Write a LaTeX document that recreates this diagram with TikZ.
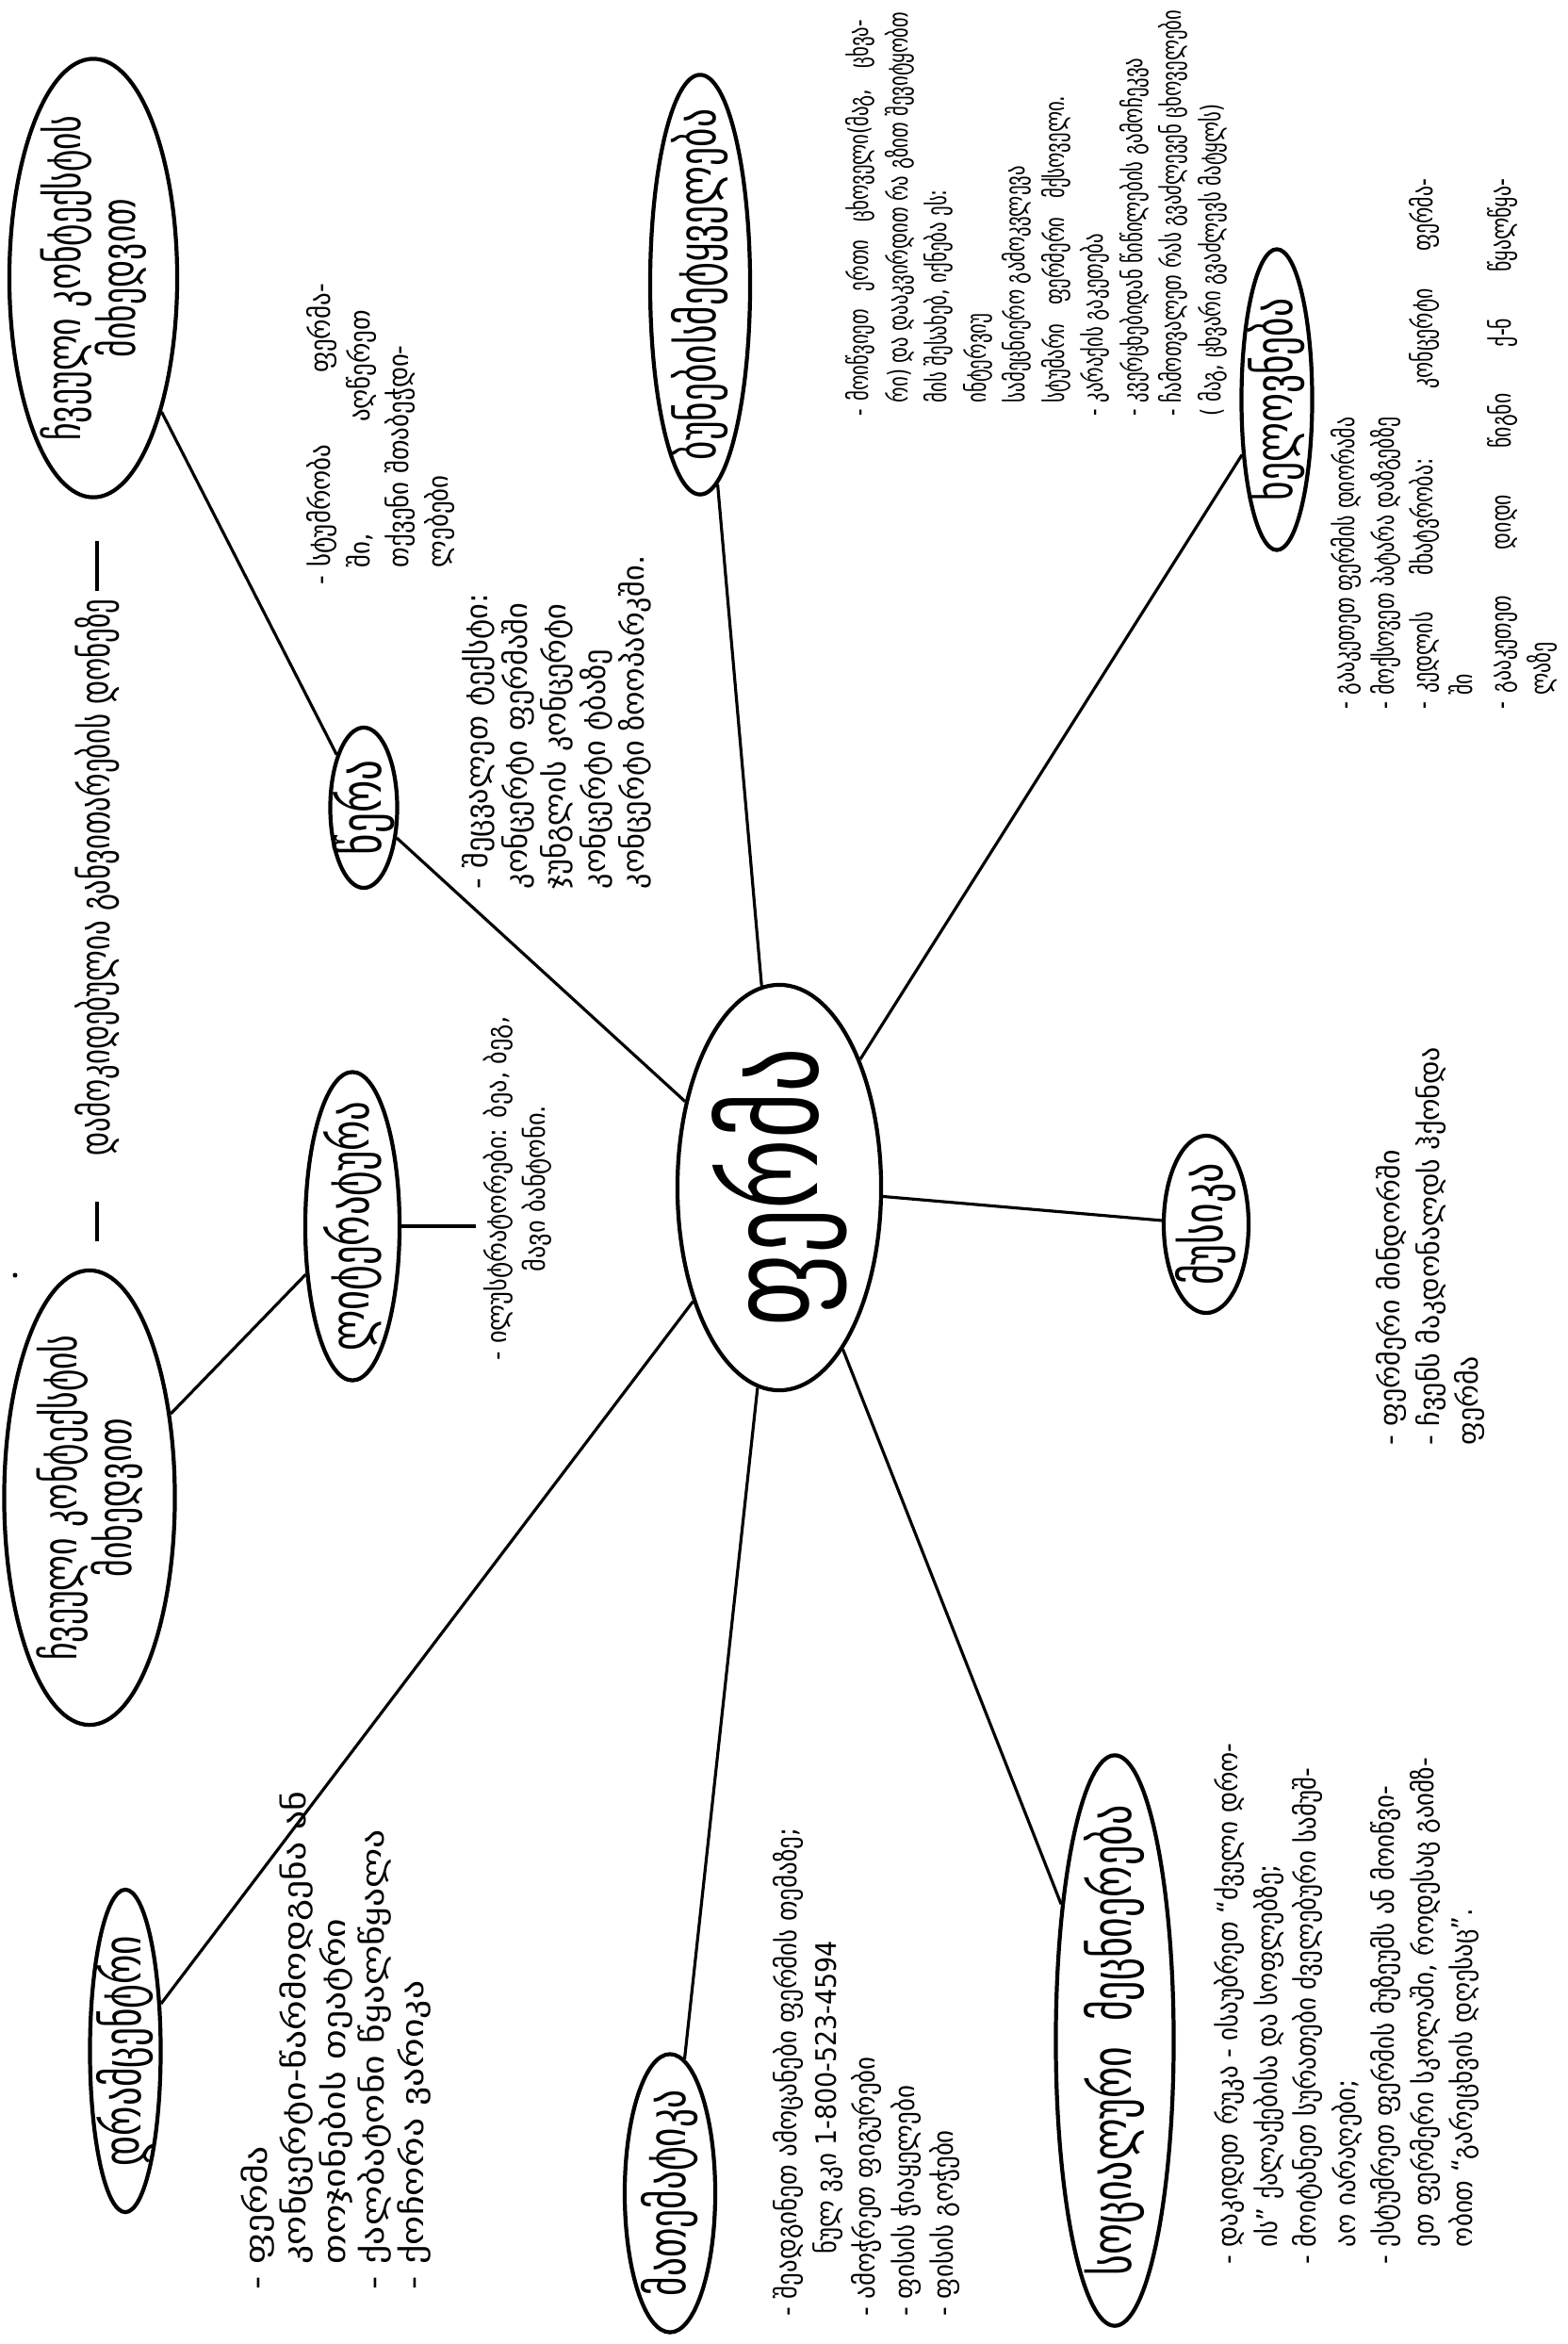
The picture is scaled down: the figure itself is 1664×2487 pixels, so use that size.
\documentclass[tikz,border=0pt]{standalone}
\usepackage{fontspec}
\setmainfont{DejaVu Sans}[FakeStretch=0.7]
\newfontfamily\geonature{DejaVu Sans}[FakeStretch=0.72]
\newfontfamily\geoart{DejaVu Sans}[FakeStretch=0.73]
\newfontfamily\geonote{DejaVu Sans}[FakeStretch=0.9]
\newfontfamily\geowide{DejaVu Sans}[FakeStretch=1.0]
\newfontfamily\geodrama{DejaVu Sans}[FakeStretch=1.2]
\usetikzlibrary{shapes.geometric}
\newcommand\contd{\hphantom{- }}

\begin{document}
\begin{tikzpicture}[x=0.01cm, y=-0.01cm,
        topic/.style={ellipse, draw, line width=1.2pt, rotate=90, inner sep=0pt},
        title/.style={rotate=90, align=center, inner sep=0pt},
        note/.style={rotate=90, anchor=north west, align=left, inner sep=0pt,
            font=\geonote\fontsize{8.5}{11.8}\selectfont},
        link/.style={line width=0.9pt}]
    \useasboundingbox (0,0) rectangle (1664,2487);

        \node[topic, minimum width=4.65cm, minimum height=1.78cm] (context1) at (99,295) {};
            \node[title, font=\fontsize{14.5}{14}\selectfont] (context1-text) at (context1) {ჩვეული\ კონტექსტის\\მიხედვით};
        \node[topic, minimum width=4.82cm, minimum height=1.81cm] (context2) at (95,1589) {};
            \node[title, font=\fontsize{14.5}{14}\selectfont] (context2-text) at (context2) {ჩვეული\ კონტექსტის\\მიხედვით};
            \node[title, font=\fontsize{12.5}{14}\selectfont] (level) at (103,931) {დამოკიდებულია განვითარების დონეზე};
            \draw[line width=1.4pt] (level.east) ++(0,-8) -- ++(0,-53);
            \draw[line width=1.4pt] (level.west) ++(0,48) -- ++(0,42);
            \fill (16,1353) circle (2.5);

        \node[topic, minimum width=3.27cm, minimum height=1cm] (literature) at (374,1301) {};
            \node[title, font=\fontsize{16.5}{17}\selectfont] (literature-text) at (literature) {ლიტერატურა};
            \node[title, font=\geonote\fontsize{8.3}{11.8}\selectfont] (litnote) at (549,1261)
                {- ილუსტრატორები: ბეა, ბეგ,\\მავი ბანტონი.};
        \node[topic, minimum width=1.7cm, minimum height=0.71cm] (writing) at (386,857) {};
            \node[title, font=\fontsize{17.5}{18}\selectfont] (writing-text) at (writing) {წერა};
        \node[topic, minimum width=4.45cm, minimum height=1.06cm] (nature) at (743,302) {};
            \node[title, font=\fontsize{16}{17}\selectfont] (nature-text) at (nature) {ბუნებისმეტყველება};
        \node[topic, minimum width=3.19cm, minimum height=0.75cm] (art) at (1355,424) {};
            \node[title, font=\fontsize{16}{17}\selectfont] (art-text) at (art) {ხელოვნება};
        \node[topic, minimum width=4.3cm, minimum height=2.16cm] (farm) at (827,1260) {};
            \node[title, font=\fontsize{38}{40}\selectfont] (farm-text) at (farm) {ფერმა};
        \node[topic, minimum width=1.88cm, minimum height=0.9cm] (music) at (1280,1299) {};
            \node[title, font=\fontsize{17}{18}\selectfont] (music-text) at (music) {მუსიკა};
        \node[topic, minimum width=6.05cm, minimum height=1.25cm] (social) at (1183,2165) {};
            \node[title, font=\fontsize{17}{18}\selectfont] (social-text) at (social) {სოციალური\ \ მეცნიერება};
        \node[topic, minimum width=2.95cm, minimum height=0.96cm] (maths) at (711,2327) {};
            \node[title, font=\fontsize{16}{17}\selectfont] (maths-text) at (maths) {მათემატიკა};
        \node[topic, minimum width=3.42cm, minimum height=0.75cm] (drama) at (133,2176) {};
            \node[title, font=\fontsize{16}{17}\selectfont] (drama-text) at (drama) {დრამცენტრი};

        \node[note] (visitnote) at (325,621) {\makebox[3.19cm][s]{-\hspace{0.3em}სტუმრობა ფერმა-}\\\contd\makebox[2.73cm][s]{ში, აღწერეთ}\\\contd თქვენი შთაბეჭდი-\\\contd ლებები};
        \node[note, font=\geowide\fontsize{9.2}{11.8}\selectfont] (writingnote) at (490,944) {- შეცვალეთ ტექსტი:\\კონცერტი ფერმაში\\ჯუნგლის კონცერტი\\კონცერტი ტბაზე\\კონცერტი ზოოპარკში.};
        \node[note, font=\geonature\fontsize{8.2}{11.8}\selectfont] (naturenote) at (897,442) {\makebox[4.2cm][s]{-\hspace{0.3em}მოიწვიეთ ერთი ცხოველი(მაგ, ცხვა-}\\
            \contd რი) და დააკვირდით რა გზით შევიტყობთ\\
            \contd მის შესახებ, იქნება ეს:\\
            \contd ინტერვიუ\\
            \contd სამეცნიერო გამოკვლევა\\
            \contd სტუმარი\ \ \ ფერმერი\ \ \ მქსოველი.\\
            - კარაქის გაკეთება\\
            - კვერცხებიდან წიწილების გამოჩეკვა\\
            - ჩამოთვალეთ რას გვაძლევენ ცხოველები\\
            ( მაგ, ცხვარი გვაძლევს მატყლს)};
        \node[note, font=\geoart\fontsize{8.5}{11.8}\selectfont] (artnote) at (1412,753) {- გააკეთეთ ფერმის დიორამა\\
            - მოქსოვეთ პატარა დაზგებზე\\
            \makebox[5.62cm][s]{-\hspace{0.3em}კედლის მხატვრობა: კონცერტი ფერმა-}\\
            \contd ში\\
            \makebox[5.62cm][s]{-\hspace{0.3em}გააკეთეთ დიდი წიგნი ქ-ნ წყალწყა-}\\
            \contd ლაზე};
        \node[note, font=\geowide\fontsize{8.5}{11.8}\selectfont] (musicnote) at (1460,1534) {- ფერმერი მინდორში\\- ჩვენს მაკდონალდს ჰქონდა\\ფერმა};
        \node[note] (socialnote) at (1288,2403) {- დაკიდეთ რუკა - ისაუბრეთ “ძველი დრო-\\
            \contd ის” ქალაქებისა და სოფლებზე;\\
            - მოიტანეთ სურათები ძველებური სამუშ-\\
            \contd აო იარაღები;\\
            - ესტუმრეთ ფერმის მუზეუმს ან მოიწვი-\\
            \contd ეთ ფერმერი სკოლაში, როდესაც გაიმზ-\\
            \contd ობით “გარეცხვის დღესაც”.};
        \node[note] (mathsnote) at (820,2458) {- შეადგინეთ ამოცანები ფერმის თემაზე;\\
            \hspace{2.2em}ნულ ვკი 1-800-523-4594\\
            - ამოჭრეთ ფიგურები\\
            - ფისის ჭიაყელები\\
            - ფისის გოჭები};
        \node[note, font=\geodrama\fontsize{9.4}{11.8}\selectfont] (dramanote) at (255,2430) {- ფერმა\\
            \contd კონცერტი-წარმოდგენა ან\\
            \contd თოჯინების თეატრი\\
            - ქალბატონი წყალწყალა\\
            - ქოჩორა ვარიკა};

        \draw[link] (context1) -- (writing);
        \draw[link] (writing) -- (farm);
        \draw[link] (nature) -- (farm);
        \draw[link] (art) -- (farm);
        \draw[link] (farm) -- (music);
        \draw[link] (farm) -- (social);
        \draw[link] (farm) -- (maths);
        \draw[link] (farm) -- (drama);
        \draw[link] (context2) -- (literature);
        \draw[link] (literature.south) -- ([xshift=-7*0.01cm]litnote.north |- literature.south);
\end{tikzpicture}
\end{document}
